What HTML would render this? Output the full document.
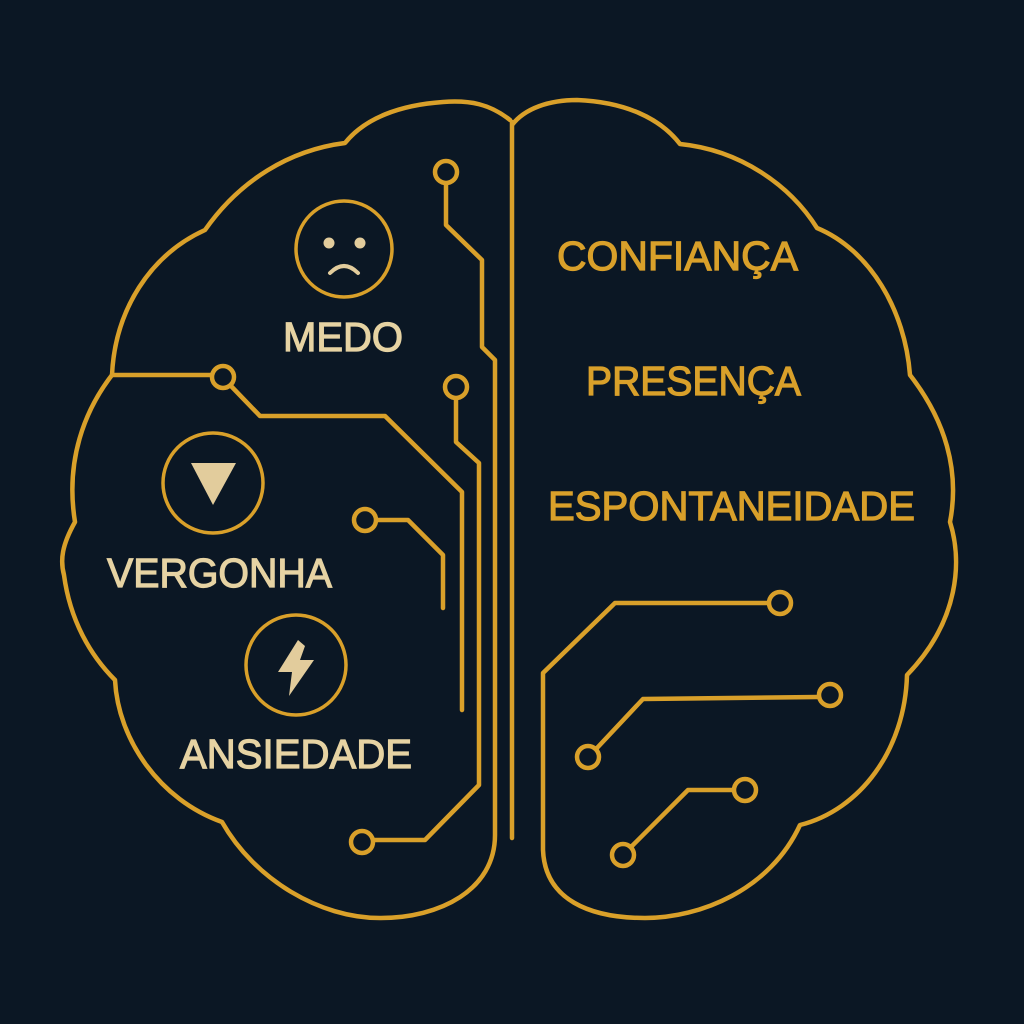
<!DOCTYPE html>
<html><head><meta charset="utf-8"><style>html,body{margin:0;padding:0;background:#0b1724;}svg{display:block}</style></head>
<body>
<svg width="1024" height="1024" viewBox="0 0 1024 1024" xmlns="http://www.w3.org/2000/svg">
<rect width="1024" height="1024" fill="#0b1724"/>
<g fill="none" stroke="#d9a02a" stroke-width="4.5" stroke-linejoin="round" stroke-linecap="round">
<path d="M510,120 C490,104 470,100 443,102 C400,105 365,118 345,143 C290,150 240,180 205,230 C150,255 115,310 112,375 C85,410 65,460 75,522 C62,545 60,560 64,575 C70,620 90,655 115,680 C118,740 160,800 222,822 C255,880 320,918 380,918 C440,918 495,890 495,835 L495,360 L482,347 L482,260 L446,225 L446,184"/>
<circle cx="446" cy="172" r="11"/>
<path d="M512,838 L512,122 M512,125 C525,108 550,100 577,100 C625,102 660,118 680,144 C740,150 790,185 817,228 C870,250 905,310 910,375 C945,420 960,470 950,522 C962,560 960,620 907,675 C905,750 860,810 800,825 C770,890 700,918 645,918 C590,918 545,900 543,850 L543,673 L615,603 L768,603"/>
<circle cx="780" cy="603" r="11"/>
<path d="M818,697 L643,699 L597,748"/>
<circle cx="830" cy="695" r="11"/>
<circle cx="588" cy="757" r="11"/>
<path d="M733,790 L688,790 L632,846"/>
<circle cx="745" cy="790" r="11"/>
<circle cx="623" cy="855" r="11"/>
<path d="M456,399 L456,442 L479,463 L479,785 L425,840 L374,840"/>
<circle cx="456" cy="387" r="11"/>
<circle cx="362" cy="842" r="11"/>
<path d="M112,375 L211,375 M231,386 L260,416 L385,416 L462,492 L462,710"/>
<circle cx="223" cy="377" r="11"/>
<path d="M377,520 L408,520 L443,555 L443,608"/>
<circle cx="365" cy="520" r="11"/>
<circle cx="344" cy="249" r="48" stroke-width="3.5"/>
<circle cx="213" cy="483" r="50" stroke-width="3.5"/>
<circle cx="296" cy="665" r="50" stroke-width="3.5"/>
</g>
<g fill="#e2cc9c">
<circle cx="329" cy="243" r="5.5"/>
<circle cx="360" cy="243" r="5.5"/>
<polygon points="191,463 236,463 213,505"/>
<polygon points="298,640 278,672 292,672 289,696 314,660 300,660 305,646"/>
</g>
<path d="M330,273 Q344,259 358,273" fill="none" stroke="#e2cc9c" stroke-width="4" stroke-linecap="round"/>
<g font-family="Liberation Sans, sans-serif" font-weight="normal" font-size="41" stroke-width="1.2">
<text x="283" y="351" fill="#e6d3a3" stroke="#e6d3a3" textLength="120" lengthAdjust="spacingAndGlyphs">MEDO</text>
<text x="107" y="587" fill="#e6d3a3" stroke="#e6d3a3" textLength="225" lengthAdjust="spacingAndGlyphs">VERGONHA</text>
<text x="180" y="768" fill="#e6d3a3" stroke="#e6d3a3" textLength="232" lengthAdjust="spacingAndGlyphs">ANSIEDADE</text>
<text x="557" y="270" fill="#d9a02a" stroke="#d9a02a" textLength="241" lengthAdjust="spacingAndGlyphs">CONFIANÇA</text>
<text x="586" y="395" fill="#d9a02a" stroke="#d9a02a" textLength="215" lengthAdjust="spacingAndGlyphs">PRESENÇA</text>
<text x="548" y="520" fill="#d9a02a" stroke="#d9a02a" textLength="367" lengthAdjust="spacingAndGlyphs">ESPONTANEIDADE</text>
</g>
</svg>
</body></html>
